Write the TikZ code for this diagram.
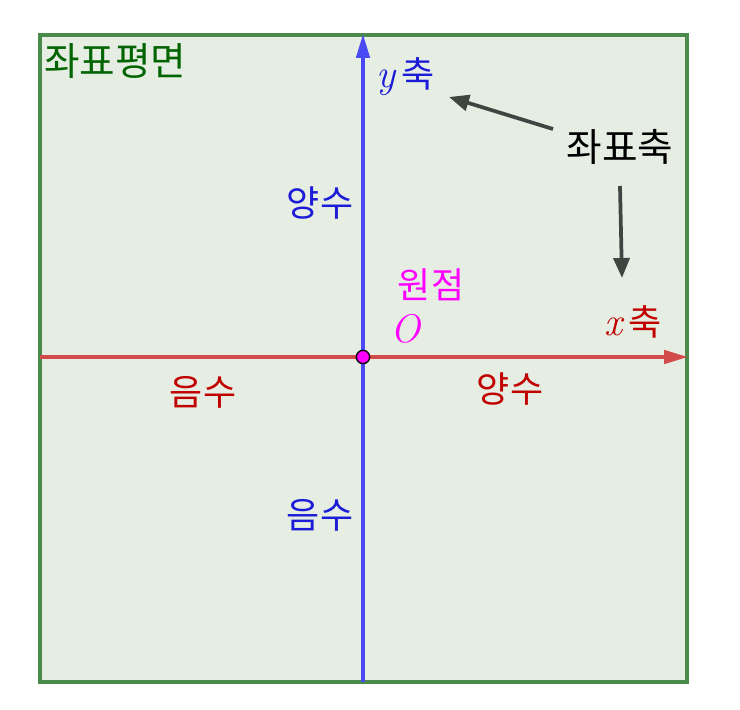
\documentclass[tikz,border=0pt]{standalone}
\usepackage{fontspec}
\newfontfamily\kr{Noto Sans CJK KR}
\newcommand{\mvar}[1]{{\rmfamily\itshape\fontsize{30}{32}\selectfont #1}}
\usetikzlibrary{arrows.meta}
\definecolor{planefill}{HTML}{E6EDE3}
\definecolor{planeedge}{HTML}{4A8A4A}
\definecolor{xaxis}{HTML}{D24A4A}
\definecolor{yaxis}{HTML}{4A4AF5}
\definecolor{redtxt}{HTML}{C00000}
\definecolor{bluetxt}{HTML}{1C1CD8}
\definecolor{greentxt}{HTML}{006400}
\definecolor{pointer}{HTML}{3F4540}
\definecolor{mag}{HTML}{FF00FF}
\tikzset{
  axisline/.style={line width=2.8pt,-{Triangle[length=18pt,width=10pt]}},
  ptr/.style={pointer,line width=2.8pt,-{Triangle[length=15pt,width=12pt]}},
  lbl/.style={inner sep=0pt,font=\kr\fontsize{27}{30}\selectfont},
  biglbl/.style={inner sep=0pt,font=\kr\fontsize{29}{32}\selectfont},
}
\begin{document}
\begin{tikzpicture}[x=0.75pt,y=-0.75pt]
\useasboundingbox (0,0) rectangle (740,710);
\draw[planeedge,fill=planefill,line width=2.8pt] (40,35) rectangle (687,682);
\coordinate (xl) at (40,357);
\coordinate (xr) at (688,357);
\coordinate (yb) at (363,682);
\coordinate (yt) at (363,34);
\draw[axisline,xaxis] (xl) -- (xr);
\draw[axisline,yaxis] (yb) -- (yt);
\node[circle,draw=black,fill=mag,line width=1pt,minimum size=10pt,inner sep=0pt] (O) at (363,357) {};
\node[biglbl,greentxt,anchor=west] (plane) at (44,61) {좌표평면};
\node[lbl,bluetxt,anchor=west] (ylab) at (376,77) {\mvar{y}\,축};
\node[biglbl,black] (axes) at (620,147) {좌표축};
\coordinate (p1s) at (553,129);
\coordinate (p1e) at (449,97);
\coordinate (p2s) at (620,186);
\coordinate (p2e) at (622,278);
\draw[ptr] (p1s) -- (p1e);
\draw[ptr] (p2s) -- (p2e);
\node[lbl,bluetxt] (ypos) at (320,203) {양수};
\node[lbl,bluetxt] (yneg) at (320,515) {음수};
\node[lbl,mag] (orig) at (431,285) {원점};
\node[inner sep=0pt,mag] (Olab) at (405,329) {\mvar{O}};
\node[lbl,redtxt,anchor=east] (xlab) at (662,322) {\mvar{x}\,축};
\node[lbl,redtxt] (xneg) at (203,392) {음수};
\node[lbl,redtxt] (xpos) at (510,389) {양수};
\end{tikzpicture}
\end{document}
